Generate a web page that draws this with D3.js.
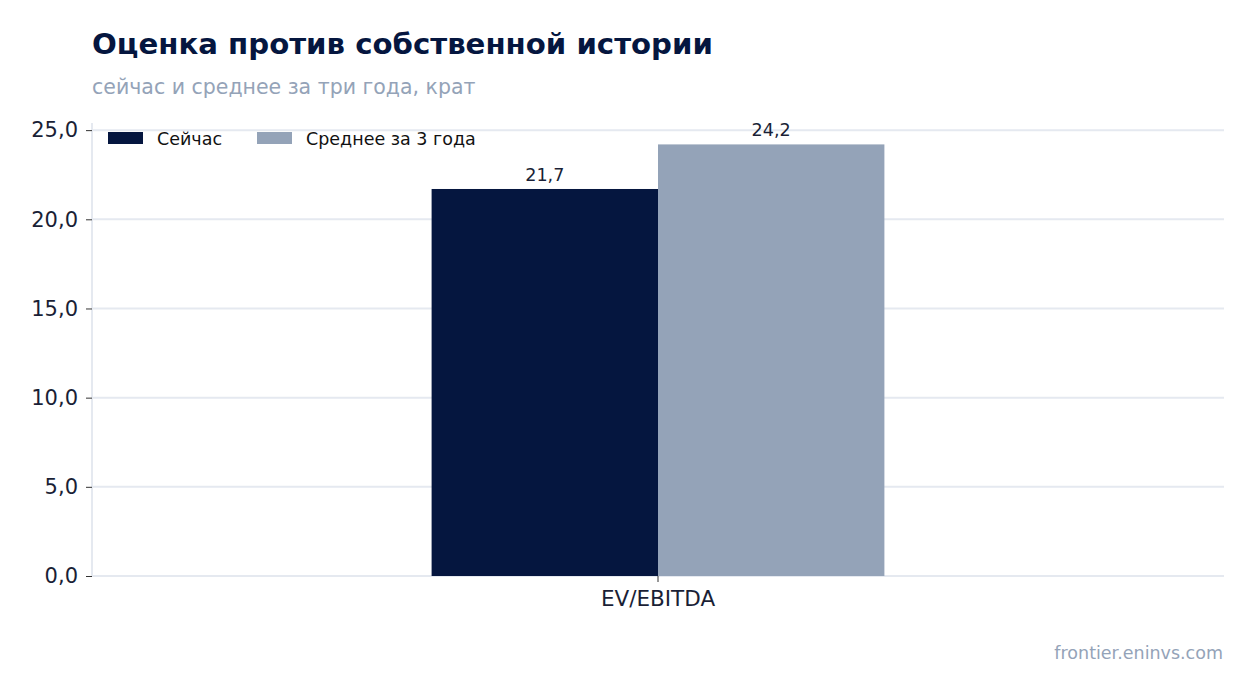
<!DOCTYPE html>
<html>
<head>
<meta charset="utf-8">
<script src="https://cdn.jsdelivr.net/npm/d3@7"></script>
<style>
  body { margin:0; background:#fff; font-family:"DejaVu Sans", sans-serif; }
  .axis path { display:none; }
</style>
</head>
<body>
<div id="chart"></div>
<script>
var categories = ["EV/EBITDA"];
var seriesNames = ["Сейчас", "Среднее за 3 года"];
var nowValues = [21.7];
var avgValues = [24.2];
var yTicks = [0, 5, 10, 15, 20, 25];

var W = 1254, H = 693;
var margin = {t:123, r:30, b:117, l:92};
var width = W - margin.l - margin.r,
    height = H - margin.t - margin.b;

var colors = ["#05163f", "#94a3b8"];
var fmt = function(v){ return d3.format(".1f")(v).replace(".", ","); };

var svg = d3.select("#chart").append("svg")
    .attr("width", W).attr("height", H);

svg.append("text")
    .attr("x", 92).attr("y", 54)
    .attr("font-size", 29.2).attr("font-weight", "bold")
    .attr("fill", "#05163f")
    .text("Оценка против собственной истории");

svg.append("text")
    .attr("x", 92).attr("y", 94)
    .attr("font-size", 20.5)
    .attr("fill", "#94a3b8")
    .text("сейчас и среднее за три года, крат");

var plot = svg.append("g")
    .attr("transform", "translate(" + margin.l + "," + margin.t + ")");

var scaleY = d3.scaleLinear().domain([0, 25.4]).range([height, 0]);
var scaleX = d3.scaleBand().domain(categories).range([0, width]).padding(0);
var scaleSub = d3.scaleBand().domain(seriesNames)
    .range([scaleX.bandwidth() * 0.3, scaleX.bandwidth() * 0.7]);

// grid
plot.selectAll(".grid")
    .data(yTicks)
    .enter().append("line")
    .attr("x1", 0).attr("x2", width)
    .attr("y1", function(d){ return scaleY(d); })
    .attr("y2", function(d){ return scaleY(d); })
    .attr("stroke", "#e5e9f0").attr("stroke-width", 2);

plot.append("line")
    .attr("x1", 0).attr("x2", 0)
    .attr("y1", 0).attr("y2", height)
    .attr("stroke", "#e5e9f0").attr("stroke-width", 2);

var axisY = plot.append("g")
    .attr("class", "axis")
    .call(d3.axisLeft(scaleY).tickValues(yTicks).tickFormat(fmt).tickSize(6).tickPadding(8));
axisY.selectAll("text").attr("font-size", 21).attr("fill", "#1a1f36")
    .attr("font-family", "DejaVu Sans");
axisY.selectAll("line").attr("stroke", "#333");

var axisX = plot.append("g")
    .attr("class", "axis")
    .attr("transform", "translate(0," + height + ")")
    .call(d3.axisBottom(scaleX).tickSize(6).tickPadding(9));
axisX.selectAll("text").attr("font-size", 21.5).attr("fill", "#1a1f36")
    .attr("font-family", "DejaVu Sans");
axisX.selectAll("line").attr("stroke", "#333");

var rows = categories.map(function(c, i){
    return [{cat:c, s:seriesNames[0], v:nowValues[i]}, {cat:c, s:seriesNames[1], v:avgValues[i]}];
});
var flat = [].concat.apply([], rows);

plot.selectAll(".bar")
    .data(flat)
    .enter().append("rect")
    .attr("x", function(d){ return scaleX(d.cat) + scaleSub(d.s); })
    .attr("width", scaleSub.bandwidth())
    .attr("y", function(d){ return scaleY(d.v); })
    .attr("height", function(d){ return height - scaleY(d.v); })
    .attr("fill", function(d){ return colors[seriesNames.indexOf(d.s)]; });

plot.selectAll(".lbl")
    .data(flat)
    .enter().append("text")
    .attr("x", function(d){ return scaleX(d.cat) + scaleSub(d.s) + scaleSub.bandwidth() / 2; })
    .attr("y", function(d){ return scaleY(d.v) - 8; })
    .attr("text-anchor", "middle")
    .attr("font-size", 17.6).attr("fill", "#1a1f36")
    .text(function(d){ return fmt(d.v); });

// legend
var legendX = [16, 165];
var legend = plot.selectAll(".leg")
    .data(seriesNames)
    .enter().append("g")
    .attr("transform", function(d, i){ return "translate(" + legendX[i] + ",9)"; });
legend.append("rect")
    .attr("width", 35).attr("height", 12)
    .attr("fill", function(d, i){ return colors[i]; });
legend.append("text")
    .attr("x", 49).attr("y", 13)
    .attr("font-size", 17.5).attr("fill", "#111")
    .text(function(d){ return d; });

svg.append("text")
    .attr("x", 1223).attr("y", 659)
    .attr("text-anchor", "end")
    .attr("font-size", 17.5).attr("fill", "#94a3b8")
    .text("frontier.eninvs.com");
</script>
</body>
</html>
